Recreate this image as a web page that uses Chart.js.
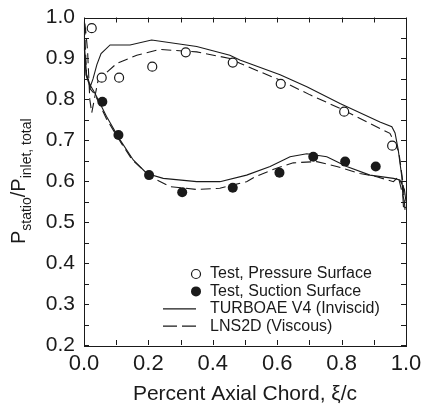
<!DOCTYPE html>
<html><head><meta charset="utf-8">
<script src="https://cdn.jsdelivr.net/npm/chart.js@4.4.0/dist/chart.umd.min.js"></script>
<style>html,body{margin:0;padding:0;background:#fff}</style>
</head><body>
<canvas id="c" width="422" height="407"></canvas>
<script>
// ---- data ----
const xTickValues = [0.0, 0.2, 0.4, 0.6, 0.8, 1.0];
const yTickValues = [0.2, 0.3, 0.4, 0.5, 0.6, 0.7, 0.8, 0.9, 1.0];

const pressureX = [0.024, 0.055, 0.109, 0.212, 0.316, 0.462, 0.611, 0.808, 0.957];
const pressureY = [0.974, 0.853, 0.853, 0.880, 0.915, 0.890, 0.838, 0.770, 0.687];

const suctionX = [0.057, 0.107, 0.202, 0.305, 0.462, 0.607, 0.712, 0.811, 0.906];
const suctionY = [0.794, 0.713, 0.615, 0.573, 0.584, 0.621, 0.660, 0.648, 0.636];

const turboX = [1.000, 0.992, 0.987, 0.976, 0.966, 0.956, 0.919, 0.795, 0.692, 0.609, 0.484, 0.453, 0.350, 0.210, 0.143, 0.081, 0.053, 0.040, 0.028, 0.019, 0.006, 0.002, 0.000, 0.003, 0.008, 0.019, 0.034, 0.070, 0.112, 0.153, 0.195, 0.246, 0.350, 0.422, 0.505, 0.578, 0.640, 0.692, 0.754, 0.816, 0.888, 0.961, 0.981, 0.995, 1.000];
const turboY = [0.535, 0.538, 0.611, 0.676, 0.718, 0.733, 0.745, 0.790, 0.831, 0.860, 0.896, 0.908, 0.929, 0.945, 0.933, 0.933, 0.912, 0.885, 0.850, 0.830, 0.860, 0.920, 0.990, 0.930, 0.860, 0.835, 0.815, 0.758, 0.701, 0.652, 0.619, 0.607, 0.599, 0.599, 0.615, 0.636, 0.660, 0.667, 0.660, 0.636, 0.615, 0.607, 0.603, 0.580, 0.550];

const lnsX = [0.997, 0.990, 0.978, 0.971, 0.950, 0.919, 0.795, 0.702, 0.609, 0.484, 0.453, 0.350, 0.236, 0.164, 0.102, 0.044, 0.032, 0.024, 0.018, 0.011, 0.005, 0.002, 0.004, 0.008, 0.020, 0.034, 0.070, 0.110, 0.150, 0.205, 0.267, 0.350, 0.422, 0.505, 0.531, 0.598, 0.650, 0.723, 0.785, 0.857, 0.909, 0.961, 0.976, 0.994, 0.997];
const lnsY = [0.530, 0.600, 0.670, 0.684, 0.717, 0.729, 0.778, 0.811, 0.847, 0.888, 0.900, 0.916, 0.922, 0.908, 0.888, 0.847, 0.800, 0.767, 0.800, 0.920, 0.970, 0.990, 0.930, 0.860, 0.825, 0.812, 0.752, 0.700, 0.652, 0.612, 0.587, 0.580, 0.583, 0.599, 0.611, 0.632, 0.645, 0.648, 0.636, 0.619, 0.611, 0.599, 0.611, 0.554, 0.530];

const seriesNames = ['Test, Pressure Surface', 'Test, Suction Surface', 'TURBOAE V4 (Inviscid)', 'LNS2D (Viscous)'];

const pts = (xs, ys) => xs.map((x, i) => ({x: x, y: ys[i]}));
const FONT = '"Liberation Sans", Arial, sans-serif';
const INK = '#1a1a1a';

const innerTicks = {
  id: 'innerTicks',
  afterDatasetsDraw(chart) {
    const {ctx, chartArea: a, scales: {x, y}} = chart;
    ctx.save();
    ctx.strokeStyle = INK; ctx.lineWidth = 1;
    const L = 5;
    for (let i = 0; i <= 10; i++) {
      const px = Math.round(x.getPixelForValue(i / 10)) + 0.5;
      ctx.beginPath();
      ctx.moveTo(px, a.bottom); ctx.lineTo(px, a.bottom - L);
      ctx.moveTo(px, a.top); ctx.lineTo(px, a.top + L);
      ctx.stroke();
    }
    for (let i = 4; i <= 20; i++) {
      const py = Math.round(y.getPixelForValue(i * 0.05)) + 0.5;
      ctx.beginPath();
      ctx.moveTo(a.left, py); ctx.lineTo(a.left + L, py);
      ctx.moveTo(a.right, py); ctx.lineTo(a.right - L, py);
      ctx.stroke();
    }
    ctx.strokeRect(Math.round(a.left) + 0.5, Math.round(a.top) + 0.5, Math.round(a.right - a.left), Math.round(a.bottom - a.top));

    // legend
    const lx = a.left + 112, tx = a.left + 126;
    const ly0 = a.bottom - 71, dy = 17.4;
    ctx.font = '16px ' + FONT;
    ctx.fillStyle = INK; ctx.textBaseline = 'middle'; ctx.textAlign = 'left';
    ctx.beginPath(); ctx.arc(lx, ly0, 4.5, 0, Math.PI * 2);
    ctx.fillStyle = '#fff'; ctx.fill(); ctx.lineWidth = 1.2; ctx.stroke();
    ctx.fillStyle = INK; ctx.fillText(seriesNames[0], tx, ly0);
    ctx.beginPath(); ctx.arc(lx, ly0 + dy, 5, 0, Math.PI * 2); ctx.fill();
    ctx.fillText(seriesNames[1], tx, ly0 + dy);
    ctx.lineWidth = 1.2;
    ctx.beginPath(); ctx.moveTo(lx - 33, ly0 + 2 * dy); ctx.lineTo(lx, ly0 + 2 * dy); ctx.stroke();
    ctx.fillText(seriesNames[2], tx, ly0 + 2 * dy);
    ctx.setLineDash([14, 5]);
    ctx.beginPath(); ctx.moveTo(lx - 33, ly0 + 3 * dy); ctx.lineTo(lx, ly0 + 3 * dy); ctx.stroke();
    ctx.setLineDash([]);
    ctx.fillText(seriesNames[3], tx, ly0 + 3 * dy);

    // x title
    ctx.font = '21px ' + FONT; ctx.textAlign = 'center';
    ctx.fillText('Percent Axial Chord, \u03BE/c', (a.left + a.right) / 2, 394);

    // y title (rotated, with subscripts)
    const parts = [['P', 20, 0], ['statio', 14, 6], ['/P', 20, 0], ['inlet, total', 14, 6]];
    let w = 0;
    parts.forEach(p => { ctx.font = p[1] + 'px ' + FONT; w += ctx.measureText(p[0]).width; });
    ctx.translate(25, (a.top + a.bottom) / 2);
    ctx.rotate(-Math.PI / 2);
    ctx.textAlign = 'left'; ctx.textBaseline = 'alphabetic';
    let cx = -w / 2;
    parts.forEach(p => {
      ctx.font = p[1] + 'px ' + FONT;
      ctx.fillText(p[0], cx, p[2]);
      cx += ctx.measureText(p[0]).width;
    });
    ctx.restore();
  }
};

new Chart(document.getElementById('c'), {
  type: 'scatter',
  data: {
    datasets: [
      {label: seriesNames[0], data: pts(pressureX, pressureY), order: 0,
       pointRadius: 4.5, pointBackgroundColor: '#fff', pointBorderColor: INK, pointBorderWidth: 1.2, showLine: false},
      {label: seriesNames[1], data: pts(suctionX, suctionY), order: 0,
       pointRadius: 5, pointBackgroundColor: INK, pointBorderColor: INK, pointBorderWidth: 0, showLine: false},
      {label: seriesNames[2], data: pts(turboX, turboY), order: 1, showLine: true,
       borderColor: INK, borderWidth: 1.1, pointRadius: 0, tension: 0, fill: false},
      {label: seriesNames[3], data: pts(lnsX, lnsY), order: 1, showLine: true,
       borderColor: INK, borderWidth: 1.1, borderDash: [10, 5], pointRadius: 0, tension: 0, fill: false}
    ]
  },
  options: {
    responsive: false, animation: false, clip: false,
    layout: {padding: {left: 0, top: 17.5, right: 16, bottom: 0}},
    plugins: {legend: {display: false}, tooltip: {enabled: false}},
    scales: {
      x: {
        type: 'linear', min: 0, max: 1,
        border: {display: false},
        grid: {display: false, drawTicks: false},
        afterFit: s => { s.height = 62; s.paddingLeft = 0; s.paddingRight = 0; },
        afterBuildTicks: s => { s.ticks = xTickValues.map(v => ({value: v})); },
        ticks: {font: {family: FONT, size: 22}, color: INK, padding: 6, maxRotation: 0,
                callback: v => Number(v).toFixed(1)}
      },
      y: {
        type: 'linear', min: 0.2, max: 1.0,
        border: {display: false},
        grid: {display: false, drawTicks: false},
        afterFit: s => { s.width = 84; s.paddingTop = 0; s.paddingBottom = 0; },
        afterBuildTicks: s => { s.ticks = yTickValues.map(v => ({value: v})); },
        ticks: {font: {family: FONT, size: 21}, color: INK, padding: 9,
                callback: v => Number(v).toFixed(1)}
      }
    }
  },
  plugins: [innerTicks]
});
</script>
</body></html>
